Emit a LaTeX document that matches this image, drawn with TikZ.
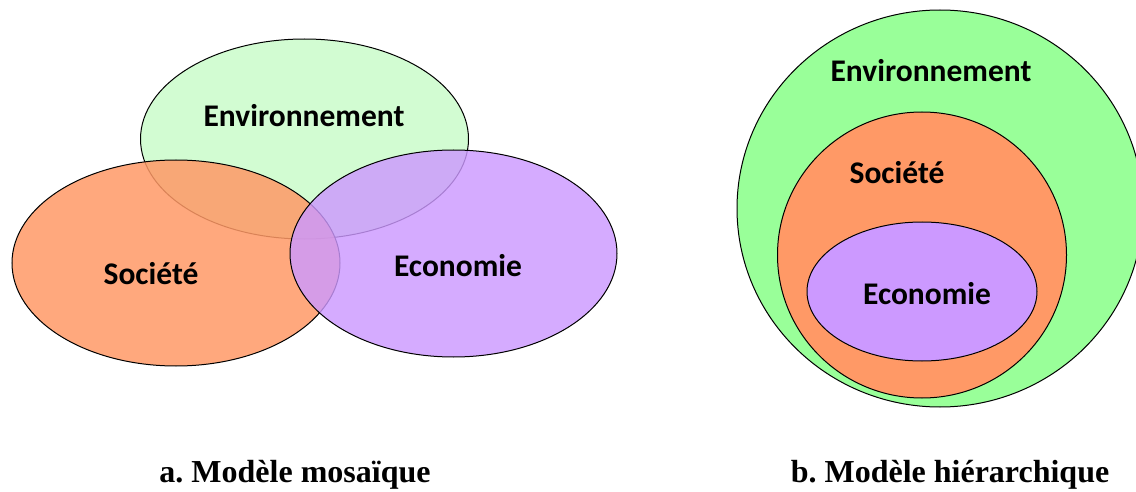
\documentclass[tikz,border=0pt]{standalone}
\usepackage{fontspec}
\setmainfont{Liberation Serif}
\newfontfamily\labelfont{Carlito}
\definecolor{envpale}{HTML}{D2FCD2}
\definecolor{envgreen}{HTML}{99FF99}
\definecolor{socorange}{HTML}{FF9966}
\definecolor{ecopurple}{HTML}{CC99FF}
\frenchspacing
\begin{document}
\begin{tikzpicture}[x=1pt, y=-1pt,
    zone/.style={draw=black, line width=1pt},
    label/.style={font=\labelfont\bfseries\fontsize{31.5}{36}\selectfont},
    caption/.style={font=\bfseries\fontsize{32}{38}\selectfont}]

    % Fix the page to the size of the reference
    \useasboundingbox (0,0) rectangle (1136,492);

    % Centres of the zones of the mosaic model
    \coordinate (envA) at (304.5,139);
    \coordinate (socA) at (176,263);
    \coordinate (ecoA) at (453.5,253.5);

    % Mosaic model: three overlapping ellipses
    \draw[zone, fill=envpale] (envA) ellipse [x radius=164, y radius=100];
    \draw[zone, fill=socorange, fill opacity=0.85] (socA) ellipse [x radius=164, y radius=103];
    \draw[zone, fill=ecopurple, fill opacity=0.82] (ecoA) ellipse [x radius=163.5, y radius=103.5];

    % Labels of the mosaic model
    \node[label] (envAtext) at (304,116) {Environnement};
    \node[label] (socAtext) at (151,274) {Société};
    \node[label] (ecoAtext) at (458,266) {Economie};

    % Centres of the zones of the hierarchical model
    \coordinate (envB) at (940,208.5);
    \coordinate (socB) at (922,255);
    \coordinate (ecoB) at (922,291.5);

    % Hierarchical model: nested ellipses
    \draw[zone, fill=envgreen] (envB) ellipse [x radius=203, y radius=198.5];
    \draw[zone, fill=socorange] (socB) ellipse [x radius=144.5, y radius=143];
    \draw[zone, fill=ecopurple] (ecoB) ellipse [x radius=115, y radius=69.5];

    % Labels of the hierarchical model
    \node[label] (envBtext) at (931,71) {Environnement};
    \node[label] (socBtext) at (897,173) {Société};
    \node[label] (ecoBtext) at (927,294) {Economie};

    % Captions
    \node[caption] (capA) at (295,475) {a. Modèle mosaïque};
    \node[caption] (capB) at (950,475) {b. Modèle hiérarchique};

\end{tikzpicture}
\end{document}
